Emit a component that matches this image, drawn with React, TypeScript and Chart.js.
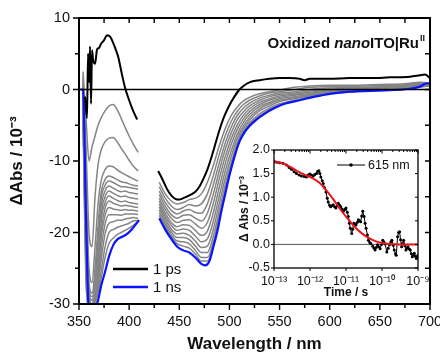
import React, { useEffect, useRef } from 'react';
import { Chart, registerables } from 'chart.js';
Chart.register(...registerables);

const FONT = "'Liberation Sans', Arial, Helvetica, sans-serif";

// ---------------- Main chart data ----------------
const BLACK_UV_NM = [356, 358, 359, 360, 361, 362, 363, 364, 366, 368, 370, 372, 375, 378, 381, 385, 389, 393, 396, 400, 404, 408];
const BLACK_UV = [-1, -4, 5, 1, 6, -2, 5.5, 4.2, 3.6, 5.6, 5.8, 6.4, 6.9, 7.6, 7.4, 6.2, 4.6, 2.0, 0.2, -1.5, -3.0, -4.2];
const BLACK_VIS_NM = [429, 434, 438, 442, 446, 450, 454, 460, 466, 470, 474, 478, 482, 486, 490, 495, 500, 505, 510, 515, 520, 530, 540, 550, 560, 570, 575, 580, 590, 600, 620, 640, 660, 680, 690, 695, 700];
const BLACK_VIS = [-11.4, -12.8, -14.0, -14.8, -15.3, -15.4, -15.2, -14.8, -14.3, -13.6, -12.5, -11.2, -9.5, -7.6, -5.7, -3.7, -2.2, -1.0, 0.0, 0.6, 1.0, 1.3, 1.5, 1.6, 1.6, 1.5, 1.3, 1.5, 1.5, 1.5, 1.6, 1.6, 1.7, 1.8, 2.0, 2.1, 1.6];

const BLUE_UV_NM = [350, 354, 357, 360, 363, 366, 369, 372, 376, 380, 384, 388, 393, 398, 403, 408, 410];
const BLUE_UV = [0, 0, -18, -31, -31, -30.5, -29.5, -27.5, -25.5, -23.3, -21.8, -21.0, -20.6, -20.2, -19.5, -18.6, -18.3];
const BLUE_VIS_NM = [430, 436, 442, 448, 454, 460, 466, 472, 476, 480, 484, 488, 492, 496, 500, 505, 510, 515, 520, 527, 535, 545, 555, 570, 585, 600, 620, 640, 660, 680, 690, 695, 700];
const BLUE_VIS = [-18.0, -19.6, -20.9, -22.0, -22.5, -22.8, -23.5, -24.4, -24.6, -24.0, -22.0, -19.8, -17.0, -14.5, -12.0, -9.4, -7.3, -6.0, -5.1, -4.2, -3.4, -2.6, -2.0, -1.5, -1.0, -0.6, -0.3, -0.2, -0.1, 0.1, 0.4, 0.8, 0.9];

const GRAY_UV_NM = [354, 357, 360, 363, 366, 369, 372, 376, 380, 384, 388, 392, 396, 400, 404, 409];
const GRAY_UV = [
  [2.5, -4, -10, -8, -6.5, -5.0, -4.0, -3.0, -2.3, -2.1, -2.8, -4.0, -5.3, -6.5, -7.6, -8.8],
  [2.0, -8, -20, -22, -15, -10.5, -8.5, -7.3, -6.8, -6.7, -7.3, -8.2, -9.0, -9.9, -10.7, -11.4],
  [1.5, -12, -25, -27, -22, -16, -12.8, -11.2, -10.7, -10.8, -11.2, -11.6, -11.9, -12.2, -12.5, -12.8],
  [1.0, -15, -27, -28.5, -25, -19, -14.5, -12.6, -12.1, -12.3, -12.6, -12.9, -13.0, -13.2, -13.4, -13.5],
  [0.5, -17, -28, -29, -26.5, -21, -15.5, -13.4, -12.8, -13.0, -13.3, -13.6, -13.6, -13.7, -13.8, -13.9],
  [0.0, -19, -28.5, -29.5, -27.5, -22.5, -16.5, -14.2, -13.5, -13.8, -14.1, -14.3, -14.2, -14.4, -14.5, -14.6],
  [-0.5, -20, -29, -29.5, -28, -23.5, -17.5, -15.0, -14.2, -14.5, -14.8, -15.0, -14.9, -15.1, -15.2, -15.3],
  [-1.0, -21, -29, -30, -28.5, -24.5, -18.5, -15.8, -14.9, -15.2, -15.5, -15.7, -15.6, -15.8, -15.9, -16.0],
  [-1.5, -22, -29.5, -30, -28.5, -25.5, -19.8, -16.6, -15.6, -15.9, -16.1, -16.3, -16.2, -16.3, -16.4, -16.5],
  [-2.0, -23, -29.5, -30, -29, -26.5, -21.0, -17.6, -16.5, -16.7, -16.8, -16.9, -16.8, -16.9, -16.9, -17.0],
  [-2.5, -24, -30, -30.5, -29, -27, -22.5, -18.8, -17.5, -17.5, -17.5, -17.6, -17.4, -17.4, -17.4, -17.5],
  [-3.0, -25, -30, -30.5, -29.5, -27.5, -24.0, -20.2, -18.7, -18.5, -18.3, -18.3, -18.1, -18.0, -17.9, -18.0],
  [-3.5, -26, -30.5, -30.5, -29.5, -28, -25.5, -22.0, -20.0, -19.6, -19.3, -19.1, -18.9, -18.7, -18.4, -18.3],
  [-4.0, -27, -30.5, -31, -30, -28.5, -26.5, -23.5, -21.5, -20.8, -20.3, -20.0, -19.7, -19.4, -19.0, -18.5],
];

const GRAY_VIS_NM = [430, 436, 442, 448, 454, 460, 466, 472, 478, 484, 490, 496, 502, 508, 514, 520, 530, 540, 550, 565, 580, 600, 625, 650, 675, 690, 700];
const GRAY_VIS = [
  [-13.0, -14.6, -15.6, -16.0, -15.8, -15.4, -15.2, -14.6, -13.0, -10.6, -7.8, -5.4, -3.6, -2.4, -1.6, -1.1, -0.6, -0.3, -0.05, 0.3, 0.5, 0.6, 0.6, 0.7, 0.8, 1.0, 0.9],
  [-13.6, -15.2, -16.3, -16.8, -16.5, -16.1, -16.3, -16.0, -14.6, -12.0, -9.0, -6.4, -4.4, -3.0, -2.1, -1.5, -0.9, -0.5, -0.3, 0.0, 0.3, 0.4, 0.45, 0.55, 0.65, 0.9, 0.85],
  [-14.2, -15.8, -16.9, -17.4, -17.0, -16.8, -17.2, -17.3, -16.0, -13.3, -10.2, -7.4, -5.2, -3.6, -2.6, -1.9, -1.2, -0.8, -0.5, -0.3, 0.0, 0.2, 0.3, 0.4, 0.55, 0.8, 0.8],
  [-14.7, -16.3, -17.5, -18.0, -17.6, -17.5, -18.0, -18.4, -17.3, -14.6, -11.3, -8.3, -6.0, -4.2, -3.1, -2.3, -1.5, -1.0, -0.7, -0.5, -0.2, 0.05, 0.2, 0.3, 0.45, 0.75, 0.75],
  [-15.2, -16.8, -18.0, -18.6, -18.3, -18.2, -18.8, -19.4, -18.6, -15.9, -12.4, -9.3, -6.8, -4.9, -3.6, -2.7, -1.8, -1.3, -0.9, -0.65, -0.4, -0.1, 0.1, 0.25, 0.4, 0.7, 0.7],
  [-15.6, -17.3, -18.6, -19.2, -18.9, -19.0, -19.7, -20.4, -19.8, -17.2, -13.6, -10.3, -7.6, -5.5, -4.1, -3.1, -2.1, -1.5, -1.1, -0.8, -0.55, -0.2, 0.0, 0.15, 0.3, 0.6, 0.65],
  [-16.0, -17.7, -19.0, -19.7, -19.5, -19.7, -20.5, -21.3, -20.9, -18.4, -14.8, -11.3, -8.5, -6.2, -4.6, -3.5, -2.4, -1.8, -1.3, -1.0, -0.7, -0.3, -0.1, 0.1, 0.25, 0.55, 0.6],
  [-16.4, -18.1, -19.5, -20.2, -20.1, -20.4, -21.2, -22.1, -21.9, -19.5, -15.9, -12.3, -9.3, -6.8, -5.1, -3.9, -2.7, -2.0, -1.5, -1.15, -0.8, -0.4, -0.15, 0.05, 0.2, 0.5, 0.6],
  [-16.8, -18.5, -19.9, -20.7, -20.7, -21.0, -21.9, -22.8, -22.8, -20.5, -16.9, -13.2, -10.1, -7.4, -5.5, -4.3, -3.0, -2.3, -1.7, -1.3, -0.9, -0.5, -0.2, 0.0, 0.15, 0.45, 0.55],
  [-17.2, -18.9, -20.3, -21.2, -21.3, -21.6, -22.5, -23.5, -23.5, -21.3, -17.7, -13.9, -10.7, -7.8, -5.9, -4.7, -3.4, -2.6, -2.0, -1.5, -1.05, -0.55, -0.25, -0.05, 0.1, 0.4, 0.55],
  [-17.6, -19.2, -20.6, -21.6, -21.9, -22.2, -23.0, -24.0, -24.0, -21.8, -18.2, -14.3, -11.0, -8.0, -6.1, -4.9, -3.7, -2.8, -2.2, -1.6, -1.1, -0.6, -0.3, -0.1, 0.05, 0.35, 0.5],
];

const MAIN_X_LABELS = [350, 400, 450, 500, 550, 600, 650, 700];
const MAIN_Y_LABELS = [-30, -20, -10, 0, 10];
const SERIES_NAMES = ['1 ps', '1 ns'];
const ANNOTATION = ['Oxidized ', 'nano', 'ITO|Ru', 'II'];

// ---------------- Inset data ----------------
const INSET_T = [
  1.04e-13, 1.21e-13, 1.44e-13, 1.78e-13, 2.21e-13, 2.62e-13, 3.05e-13, 3.62e-13, 4.2e-13, 4.99e-13,
  5.79e-13, 6.87e-13, 7.98e-13, 8.89e-13, 9.89e-13, 1.1e-12, 1.23e-12, 1.36e-12, 1.52e-12, 1.65e-12,
  1.77e-12, 1.88e-12, 2.0e-12, 2.19e-12, 2.33e-12, 2.54e-12, 2.77e-12, 3.02e-12, 3.21e-12, 3.5e-12,
  3.73e-12, 4.07e-12, 4.43e-12, 4.83e-12, 5.26e-12, 5.73e-12, 6.11e-12, 6.66e-12, 7.1e-12, 7.73e-12,
  8.43e-12, 9.18e-12, 1.0e-11, 1.09e-11, 1.16e-11, 1.24e-11, 1.32e-11, 1.44e-11, 1.53e-11, 1.64e-11,
  1.78e-11, 1.9e-11, 2.07e-11, 2.21e-11, 2.36e-11, 2.56e-11, 2.73e-11, 2.92e-11, 3.18e-11, 3.39e-11,
  3.61e-11, 3.94e-11, 4.2e-11, 4.57e-11, 4.87e-11, 5.55e-11, 6.04e-11, 6.44e-11, 7.03e-11, 7.49e-11,
  8.16e-11, 8.89e-11, 9.68e-11, 1.05e-10, 1.12e-10, 1.22e-10, 1.36e-10, 1.49e-10, 1.62e-10, 1.76e-10,
  1.88e-10, 2.05e-10, 2.19e-10, 2.38e-10, 2.49e-10, 2.71e-10, 2.89e-10, 3.08e-10, 3.28e-10, 3.5e-10,
  3.73e-10, 3.98e-10, 4.34e-10, 4.62e-10, 4.93e-10, 5.26e-10, 5.73e-10, 6.11e-10, 6.51e-10, 6.95e-10,
  7.41e-10, 7.91e-10, 8.43e-10, 8.98e-10, 9.57e-10, 1.0e-9,
];
const INSET_ABS = [
  1.75, 1.74, 1.73, 1.72, 1.68, 1.63, 1.59, 1.54, 1.5, 1.47,
  1.45, 1.44, 1.43, 1.47, 1.49, 1.47, 1.45, 1.48, 1.5, 1.55,
  1.56, 1.5, 1.43, 1.35, 1.29, 1.2, 1.11, 0.98, 0.9, 0.83,
  0.8, 0.82, 0.84, 0.8, 0.77, 0.82, 0.87, 0.83, 0.8, 0.75,
  0.7, 0.74, 0.77, 0.68, 0.59, 0.45, 0.34, 0.23, 0.32, 0.45,
  0.43, 0.41, 0.47, 0.52, 0.5, 0.48, 0.6, 0.7, 0.59, 0.45,
  0.34, 0.2, 0.09, 0.04, 0.02, -0.04, -0.08, -0.12, -0.06, -0.01,
  -0.05, -0.09, 0.0, 0.09, 0.05, 0.01, -0.16, -0.08, -0.01, 0.05,
  0.09, -0.02, -0.12, -0.2, -0.23, 0.16, 0.25, 0.27, 0.1, -0.05,
  0.02, 0.09, -0.03, -0.12, -0.08, -0.05, -0.1, -0.12, -0.2, -0.26,
  -0.22, -0.19, -0.25, -0.3, -0.26, -0.23,
];
const FIT_T = [1.0e-13, 1.5e-13, 2.6e-13, 4.3e-13, 8.0e-13, 1.2e-12, 1.8e-12, 2.8e-12, 4.5e-12, 7e-12, 1.1e-11, 1.7e-11, 2.6e-11, 4e-11, 6.5e-11, 1e-10, 1.6e-10, 3e-10, 1e-9];
const FIT_ABS = [1.76, 1.73, 1.66, 1.56, 1.46, 1.4, 1.31, 1.15, 0.95, 0.74, 0.55, 0.38, 0.25, 0.15, 0.07, 0.03, 0.01, 0.0, 0.0];

const INSET_X_TICKS = [1e-13, 1e-12, 1e-11, 1e-10, 1e-9];
const INSET_X_LABELS = ['10⁻¹³', '10⁻¹²', '10⁻¹¹', '10⁻¹⁰', '10⁻⁹'];
const INSET_NAME = '615 nm';

const pts = (xs: number[], ys: number[]) => xs.map((x, i) => ({ x, y: ys[i] }));
const gapJoin = (a: any[], b: any[]) => [...a, { x: 420, y: null }, ...b];

const mainPlugin = {
  id: 'mainDecor',
  afterDatasetsDraw(chart: any) {
    const { ctx, chartArea: a, scales } = chart;
    const y0 = scales.y.getPixelForValue(0);
    ctx.save();
    ctx.strokeStyle = '#000';
    ctx.lineWidth = 1.6;
    ctx.beginPath();
    ctx.moveTo(a.left, y0);
    ctx.lineTo(a.right, y0);
    ctx.stroke();
    ctx.restore();
  },
  afterDraw(chart: any) {
    const { ctx, chartArea: a, scales } = chart;
    const xs = scales.x, ys = scales.y;
    ctx.save();
    ctx.strokeStyle = '#000';
    ctx.lineWidth = 1.4;
    ctx.beginPath();
    xs.ticks.forEach((t: any) => {
      const px = xs.getPixelForValue(t.value);
      const major = MAIN_X_LABELS.includes(t.value);
      ctx.moveTo(px, a.bottom);
      ctx.lineTo(px, a.bottom + (major ? 6 : 4));
      ctx.moveTo(px, a.top);
      ctx.lineTo(px, a.top + 5);
    });
    ys.ticks.forEach((t: any) => {
      const py = ys.getPixelForValue(t.value);
      const major = MAIN_Y_LABELS.includes(t.value);
      ctx.moveTo(a.left, py);
      ctx.lineTo(a.left - (major ? 6 : 4), py);
      ctx.moveTo(a.right, py);
      ctx.lineTo(a.right - 5, py);
    });
    ctx.stroke();
    ctx.lineWidth = 2;
    ctx.strokeRect(a.left, a.top, a.right - a.left, a.bottom - a.top);

    // legend
    const ds = chart.data.datasets;
    const legendY = [269, 287];
    [0, 1].forEach((i) => {
      ctx.strokeStyle = ds[i].borderColor;
      ctx.lineWidth = 2.5;
      ctx.beginPath();
      ctx.moveTo(113, legendY[i]);
      ctx.lineTo(148, legendY[i]);
      ctx.stroke();
      ctx.fillStyle = '#111';
      ctx.font = `15px ${FONT}`;
      ctx.textBaseline = 'middle';
      ctx.fillText(ds[i].label, 153, legendY[i] + 1);
    });

    // annotation
    ctx.textBaseline = 'alphabetic';
    const f1 = `bold 15px ${FONT}`;
    const f2 = `italic bold 15px ${FONT}`;
    const f3 = `bold 9px ${FONT}`;
    ctx.font = f1; const w1 = ctx.measureText(ANNOTATION[0]).width;
    ctx.font = f2; const w2 = ctx.measureText(ANNOTATION[1]).width;
    ctx.font = f1; const w3 = ctx.measureText(ANNOTATION[2]).width;
    ctx.font = f3; const w4 = ctx.measureText(ANNOTATION[3]).width;
    let x = 425 - (w1 + w2 + w3 + w4 + 1);
    const base = 48;
    ctx.fillStyle = '#111';
    ctx.font = f1; ctx.fillText(ANNOTATION[0], x, base); x += w1;
    ctx.font = f2; ctx.fillText(ANNOTATION[1], x, base); x += w2;
    ctx.font = f1; ctx.fillText(ANNOTATION[2], x, base); x += w3 + 1;
    ctx.font = f3; ctx.fillText(ANNOTATION[3], x, base - 7);
    ctx.restore();
  },
};

const insetPlugin = {
  id: 'insetDecor',
  beforeDatasetsDraw(chart: any) {
    const { ctx, chartArea: a, scales } = chart;
    const y0 = scales.y.getPixelForValue(0);
    ctx.save();
    ctx.strokeStyle = '#555';
    ctx.lineWidth = 1;
    ctx.beginPath();
    ctx.moveTo(a.left, y0);
    ctx.lineTo(a.right, y0);
    ctx.stroke();
    ctx.restore();
  },
  afterDraw(chart: any) {
    const { ctx, chartArea: a, scales } = chart;
    const xs = scales.x, ys = scales.y;
    ctx.save();
    ctx.strokeStyle = '#000';
    ctx.lineWidth = 1;
    ctx.beginPath();
    INSET_X_TICKS.forEach((v, k) => {
      const px = xs.getPixelForValue(v);
      ctx.moveTo(px, a.bottom);
      ctx.lineTo(px, a.bottom + 3);
      if (k < INSET_X_TICKS.length - 1) {
        for (let m = 2; m <= 9; m++) {
          const pm = xs.getPixelForValue(v * m);
          ctx.moveTo(pm, a.top);
          ctx.lineTo(pm, a.top + 2);
        }
      }
      ctx.moveTo(px, a.top);
      ctx.lineTo(px, a.top + 3.5);
    });
    ys.ticks.forEach((t: any) => {
      const py = ys.getPixelForValue(t.value);
      ctx.moveTo(a.left, py);
      ctx.lineTo(a.left - 3, py);
      ctx.moveTo(a.right, py);
      ctx.lineTo(a.right - 3, py);
    });
    ctx.stroke();
    ctx.lineWidth = 1.3;
    ctx.strokeRect(a.left, a.top, a.right - a.left, a.bottom - a.top);

    // legend
    const lx0 = 109, lx1 = 137, ly = 27;
    ctx.strokeStyle = '#000';
    ctx.lineWidth = 1;
    ctx.beginPath();
    ctx.moveTo(lx0, ly);
    ctx.lineTo(lx1, ly);
    ctx.stroke();
    ctx.fillStyle = '#000';
    ctx.beginPath();
    ctx.arc((lx0 + lx1) / 2, ly, 1.8, 0, Math.PI * 2);
    ctx.fill();
    ctx.fillStyle = '#111';
    ctx.font = `12.5px ${FONT}`;
    ctx.textBaseline = 'middle';
    ctx.fillText(chart.data.datasets[1].label, 140, ly + 1);
    ctx.restore();
  },
};

export default function App() {
  const mainRef = useRef<HTMLCanvasElement>(null);
  const insetRef = useRef<HTMLCanvasElement>(null);

  useEffect(() => {
    const grayDs: any[] = [];
    GRAY_UV.forEach((g) => grayDs.push({ label: 'g', data: pts(GRAY_UV_NM, g), borderColor: '#858585', borderWidth: 1.5 }));
    GRAY_VIS.forEach((g) => grayDs.push({ label: 'g', data: pts(GRAY_VIS_NM, g), borderColor: '#858585', borderWidth: 1.5 }));

    const main = new Chart(mainRef.current as HTMLCanvasElement, {
      type: 'line',
      data: {
        datasets: [
          { label: SERIES_NAMES[0], data: gapJoin(pts(BLACK_UV_NM, BLACK_UV), pts(BLACK_VIS_NM, BLACK_VIS)), borderColor: '#000', borderWidth: 2 },
          { label: SERIES_NAMES[1], data: gapJoin(pts(BLUE_UV_NM, BLUE_UV), pts(BLUE_VIS_NM, BLUE_VIS)), borderColor: '#0a14ff', borderWidth: 2.2 },
          ...grayDs,
        ] as any,
      },
      options: {
        responsive: false,
        animation: false,
        events: [],
        clip: 0 as any,
        layout: { padding: { top: 18, right: 10, left: 0, bottom: 0 } },
        plugins: { legend: { display: false }, tooltip: { enabled: false } },
        elements: { point: { radius: 0 }, line: { cubicInterpolationMode: 'monotone' } },
        scales: {
          x: {
            type: 'linear', min: 350, max: 700,
            ticks: {
              stepSize: 25, autoSkip: false, maxRotation: 0, color: '#111', padding: 3,
              font: { family: FONT, size: 14.5 },
              callback: (v: any) => (MAIN_X_LABELS.includes(Number(v)) ? String(v) : ''),
            },
            grid: { drawOnChartArea: false, drawTicks: true, tickLength: 6, color: 'rgba(0,0,0,0)' },
            border: { display: false },
            title: { display: true, text: 'Wavelength / nm', color: '#111', font: { family: FONT, size: 17, weight: 'bold' }, padding: { top: 0, bottom: 0 } },
            afterFit: (s: any) => { s.height = 51; s.paddingLeft = 0; s.paddingRight = 0; },
          },
          y: {
            type: 'linear', min: -30, max: 10,
            ticks: {
              stepSize: 5, autoSkip: false, color: '#111', padding: 3,
              font: { family: FONT, size: 14.5 },
              callback: (v: any) => (MAIN_Y_LABELS.includes(Number(v)) ? String(v) : ''),
            },
            grid: { drawOnChartArea: false, drawTicks: true, tickLength: 6, color: 'rgba(0,0,0,0)' },
            border: { display: false },
            title: { display: true, text: 'ΔAbs / 10⁻³', color: '#111', font: { family: FONT, size: 17, weight: 'bold' }, padding: { top: 7, bottom: 0 } },
            afterFit: (s: any) => { s.width = 79; s.paddingTop = 0; s.paddingBottom = 0; },
          },
        },
      } as any,
      plugins: [mainPlugin],
    });

    const inset = new Chart(insetRef.current as HTMLCanvasElement, {
      type: 'line',
      data: {
        datasets: [
          { label: 'fit', data: pts(FIT_T, FIT_ABS), borderColor: '#e8141c', borderWidth: 2, pointRadius: 0, cubicInterpolationMode: 'monotone' },
          { label: INSET_NAME, data: pts(INSET_T, INSET_ABS), borderColor: '#000', borderWidth: 1, pointRadius: 1.5, pointBackgroundColor: '#000', pointBorderWidth: 0 },
        ] as any,
      },
      options: {
        responsive: false,
        animation: false,
        events: [],
        clip: 0 as any,
        layout: { padding: { top: 12, right: 15, left: 0, bottom: 0 } },
        plugins: { legend: { display: false }, tooltip: { enabled: false } },
        scales: {
          x: {
            type: 'logarithmic', min: 1e-13, max: 1e-9,
            afterBuildTicks: (s: any) => { s.ticks = INSET_X_TICKS.map((v) => ({ value: v })); },
            ticks: {
              autoSkip: false, maxRotation: 0, color: '#111', padding: 3,
              font: { family: FONT, size: 12.5 },
              callback: (_v: any, i: number) => INSET_X_LABELS[i],
            },
            grid: { drawOnChartArea: false, drawTicks: true, tickLength: 3, color: 'rgba(0,0,0,0)' },
            border: { display: false },
            title: { display: true, text: 'Time / s', color: '#111', font: { family: FONT, size: 12, weight: 'bold' }, padding: { top: 0, bottom: 3 } },
            afterFit: (s: any) => { s.height = 35; s.paddingLeft = 0; s.paddingRight = 0; },
          },
          y: {
            type: 'linear', min: -0.5, max: 2.0,
            ticks: {
              stepSize: 0.5, autoSkip: false, color: '#111', padding: 1,
              font: { family: FONT, size: 12.5 },
              callback: (v: any) => Number(v).toFixed(1),
            },
            grid: { drawOnChartArea: false, drawTicks: true, tickLength: 3, color: 'rgba(0,0,0,0)' },
            border: { display: false },
            title: { display: true, text: 'Δ Abs / 10⁻³', color: '#111', font: { family: FONT, size: 12, weight: 'bold' }, padding: { top: 9, bottom: 0 } },
            afterFit: (s: any) => { s.width = 46; s.paddingTop = 0; s.paddingBottom = 0; },
          },
        },
      } as any,
      plugins: [insetPlugin],
    });

    return () => {
      main.destroy();
      inset.destroy();
    };
  }, []);

  return (
    <div style={{ position: 'fixed', left: 0, top: 0, width: 440, height: 355, background: '#fff', overflow: 'hidden' }}>
      <canvas ref={mainRef} width={440} height={355} style={{ position: 'absolute', left: 0, top: 0, width: 440, height: 355 }} />
      <canvas ref={insetRef} width={205} height={165} style={{ position: 'absolute', left: 228, top: 138, width: 205, height: 165 }} />
    </div>
  );
}
